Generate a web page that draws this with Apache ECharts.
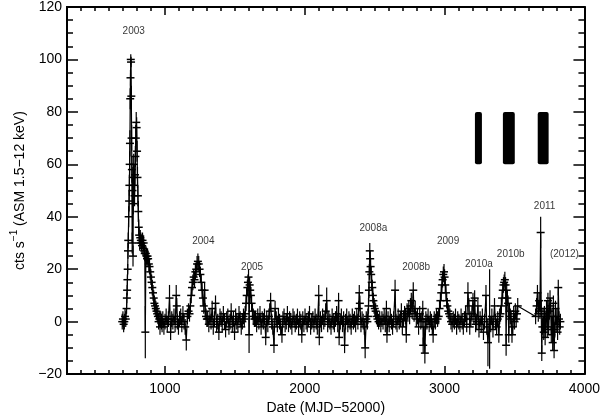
<!DOCTYPE html>
<html>
<head>
<meta charset="utf-8">
<script src="https://cdn.jsdelivr.net/npm/echarts@6/dist/echarts.min.js"></script>
<style>
  html, body { margin: 0; padding: 0; background: #fff; }
  #chart { width: 603px; height: 420px; }
</style>
</head>
<body>
<div id="chart"></div>
<script>
// light curve points: [MJD-52000, rate, error]
const seg2003 = [
  [695,0,3],[700,1,3],[705,-1,3],[710,0,3],[715,2,3],[720,1,3],
  [726,5,2],[728,9,2],[730,12,2],[732,16,2],[734,20,2],[736,27,3],[738,31,3],[741,40,4],[744,46,4],[746,52,4],
  [748,60,5],[750,68,5],[752,85,4],[754,93,3],[756,100,2],[758,99,2],[760,86,4],[762,70,5],[764,58,5],[766,30,4],
  [768,50,4],[771,55,4],[772,25,4],[774,45,4],[777,60,4],[780,52,4],[783,48,4],[786,56,4],[789,63,4],[792,70,5],
  [795,76,4],[798,74,4],[801,65,4],[804,55,4],[807,48,4],[810,42,4],[813,36,3],[816,33,3],[820,30,3],[824,32,3],
  [828,31,3],[832,30,3],[836,29,3],[840,31,3],[844,28,3],[848,30,3],[852,27,3],[856,26,3],[860,-4,10],[864,26,3],
  [868,25,3],[872,24,3],[876,25,3],[880,24,3],[885,22,3],[890,21,3],[895,19,3],[900,17,3],[905,15,3],[910,13,3],
  [915,11,3],[920,9,3],[925,7,3],[930,6,3],[935,5,3],[940,4,3],[945,3,3],[950,2,3],[955,0,3],[960,1,3],
  [965,-2,3],[970,1,3],[975,0,3],[980,-1,3]
];
const base2003 = [
  [985,1,3],[993,-2,3],[1001,0,3],[1009,2,3],[1017,-1,3],[1025,1,3],[1033,9,5],[1041,-4,3],[1049,1,3],[1057,0,3],
  [1065,2,3],[1073,-1,3],[1081,10,4],[1085,6,3],[1089,0,3],[1097,-2,3],[1105,1,3],[1113,2,3],[1121,-1,3],[1129,3,3],
  [1137,0,3],[1145,-2,3],[1153,-7,4],[1161,2,3],[1169,4,3]
];
const seg2004 = [
  [1176,3,3],[1182,6,3],[1188,10,3],[1194,13,3],[1200,15,3],[1206,17,3],[1212,16,3],[1218,19,3],[1224,20,3],
  [1230,22,3],[1236,23,3],[1242,22,3],[1248,20,3],[1254,18,3],[1260,15,3],[1266,12,3],[1272,9,3],[1278,6,3],
  [1284,12,3],[1288,4,3],[1294,2,3],[1300,1,3]
];
const base2004 = [
  [1306,1,3],[1314,-1,3],[1322,2,3],[1330,0,3],[1338,5,3],[1346,-2,3],[1354,1,3],[1362,7,3],[1370,-1,3],[1378,0,3],
  [1386,-4,3],[1394,2,3],[1402,1,3],[1410,-1,3],[1418,3,3],[1426,0,3],[1434,-3,3],[1442,1,3],[1450,2,3],[1458,-2,3],
  [1466,0,3],[1474,4,3],[1482,-1,3],[1490,1,3],[1498,-4,3],[1506,2,3],[1514,0,3],[1522,-1,3],[1530,3,3],[1538,1,3],
  [1546,-2,3],[1554,0,3],[1562,2,3],[1568,1,3]
];
const seg2005 = [
  [1574,3,3],[1580,7,3],[1585,10,3],[1590,13,3],[1594,15,3],[1598,17,3],[1602,-5,7],[1606,14,3],[1610,12,3],
  [1615,10,3],[1620,7,3],[1626,4,3],[1632,2,3],[1640,1,3]
];
const base2005 = [
  [1648,1,3],[1656,-1,3],[1664,2,3],[1672,0,3],[1680,3,3],[1688,-2,3],[1696,1,3],[1704,0,3],[1712,2,3],[1721,-6,3],
  [1728,1,3],[1736,-1,3],[1744,2,3],[1750,4,3],[1756,8,3],[1764,0,3],[1772,-2,3],[1780,-9,3],[1788,5,3],[1796,1,3],
  [1804,-1,3],[1812,2,3],[1820,0,3],[1828,-2,3],[1837,-5,3],[1844,1,3],[1852,2,3],[1860,-1,3],[1868,0,3],[1876,3,3],
  [1884,-1,3],[1892,1,3],[1900,0,3],[1908,-2,3],[1916,2,3],[1924,1,3],[1932,-1,3],[1940,0,3],[1948,2,3],[1956,-2,3],
  [1964,1,3],[1972,0,3],[1979,-5,3],[1986,1,3],[1994,-1,3],[2002,2,3],[2010,0,3],[2018,-1,3],[2026,1,3],[2034,3,3],
  [2042,-2,3],[2050,0,3],[2058,1,3],[2066,-1,3],[2074,2,3],[2082,0,3],[2090,-2,3],[2100,10,4],[2104,-6,3],[2112,1,3],
  [2120,-1,3],[2128,2,3],[2136,0,3],[2144,1,3],[2150,4,3],[2157,8,5],[2164,-1,3],[2172,1,3],[2180,0,3],[2188,-2,3],
  [2196,2,3],[2204,0,3],[2212,-1,3],[2220,1,3],[2228,3,3],[2236,-1,3],[2242,8,3],[2246,-6,3],[2254,0,3],[2262,2,3],
  [2270,-1,3],[2278,1,3],[2285,-9,3],[2292,0,3],[2300,2,3],[2308,-1,3],[2316,1,3],[2324,0,3],[2332,-2,3],[2340,2,3],
  [2348,0,3],[2356,1,3],[2364,-1,3],[2372,2,3],[2380,0,3],[2386,5,3],[2390,11,3],[2394,7,3],[2402,-1,3],[2410,1,3],
  [2418,0,3],[2426,-2,3],[2432,-10,4],[2440,1,3],[2448,0,3]
];
const seg2008a = [
  [2452,2,3],[2456,6,3],[2459,12,3],[2462,19,3],[2465,27,3],[2468,24,3],[2471,21,3],[2475,18,3],[2479,15,3],
  [2483,13,3],[2487,10,3],[2491,8,3],[2496,6,3],[2501,5,3],[2507,4,3],[2513,2,3],[2520,1,3],[2528,0,3],[2536,1,3]
];
const base2008 = [
  [2544,-1,3],[2552,1,3],[2560,0,3],[2568,2,3],[2576,-1,3],[2584,5,3],[2588,-5,3],[2596,1,3],[2604,-1,3],[2612,2,3],
  [2620,0,3],[2628,-2,3],[2636,1,3],[2646,12,4],[2652,0,3],[2660,-1,3],[2668,2,3],[2676,0,3],[2684,1,3],[2691,4,3],
  [2698,-2,3],[2706,1,3],[2714,3,3],[2720,2,3],[2726,-5,3],[2732,4,3],[2738,3,3],[2744,5,3],[2750,2,3],[2756,6,3],
  [2762,8,3],[2768,4,3],[2776,12,3],[2782,3,3],[2790,5,3],[2798,1,3],[2806,2,3],[2814,-2,3],[2822,3,3],[2830,0,3],
  [2838,1,3],[2844,5,3],[2847,-9,3],[2853,-2,3],[2859,-12,4],[2866,1,3],[2874,0,3],[2882,2,3],[2890,-1,3],[2898,1,3],
  [2906,0,3],[2912,-2,3],[2918,-5,3],[2926,1,3],[2934,0,3],[2942,2,3],[2950,1,3]
];
const seg2009 = [
  [2958,2,3],[2964,5,3],[2970,8,3],[2976,11,3],[2981,14,3],[2986,16,3],[2991,18,3],[2996,19,3],[3000,17,3],
  [3005,14,3],[3010,11,3],[3015,8,3],[3020,6,3],[3026,4,3],[3032,3,3],[3038,2,3]
];
const base2009 = [
  [3046,0,3],[3054,-1,3],[3062,1,3],[3070,0,3],[3078,2,3],[3086,-2,3],[3094,1,3],[3102,0,3],[3110,-1,3],[3118,2,3],
  [3126,0,3],[3134,-2,3],[3142,1,3],[3150,3,3],[3158,-1,3],[3167,11,4],[3174,6,3],[3180,-2,3],[3188,1,3],[3196,3,3],
  [3203,8,3],[3210,2,3],[3215,9,3],[3222,-1,3],[3230,0,3],[3238,6,3],[3246,-3,3],[3254,1,3],[3262,-1,3],[3270,2,3],
  [3278,-4,3],[3286,0,3],[3296,10,4],[3302,-2,3],[3310,-8,9],[3322,1,19],[3330,-1,3],[3338,2,3],[3346,-3,3],
  [3357,6,3],[3364,0,3],[3372,-2,3],[3380,1,3],[3388,-5,3],[3394,2,3]
];
const seg2010b = [
  [3400,3,3],[3406,6,3],[3411,9,3],[3416,12,3],[3421,14,3],[3426,15,3],[3431,16,3],[3436,14,3],[3440,-9,4],
  [3444,12,3],[3449,9,3],[3454,7,3],[3459,-5,3],[3464,4,3],[3470,2,3],
  [3476,1,3],[3482,-5,3],[3488,-2,3],[3494,3,3],[3500,0,3],[3506,4,3],[3512,1,3],[3518,3,3],[3523,6,3]
];
const seg2011 = [
  [3651,2,3],[3658,6,3],[3664,11,3],[3670,3,3],[3676,8,3],[3682,4,3],[3687,34,6],[3691,5,3],[3695,-12,3],[3699,-2,3],
  [3704,2,3],[3709,-4,3],[3714,3,3],[3719,-6,3],[3724,1,3],[3729,5,3],[3734,-3,3],[3739,8,3],[3744,-2,3],[3749,4,3],
  [3754,9,3],[3758,6,3],[3763,-5,3],[3768,2,3],[3773,-8,3],[3778,7,3],[3783,-11,3],[3788,-3,3],[3793,5,3],
  [3798,-1,3],[3803,2,3],[3808,-4,3],[3813,13,3],[3818,1,3],[3823,-2,3],[3828,0,3]
];

// outburst names
const outburstNames = ["2003", "2004", "2005", "2008a", "2008b", "2009", "2010a", "2010b", "2011", "(2012)"];
const outburstLabelX = [777, 1275, 1623, 2491, 2797, 3025, 3246, 3473, 3715, 3857];
const outburstLabelY = [110.9, 30.6, 20.8, 35.6, 20.8, 30.6, 21.9, 25.7, 43.9, 25.7];

// the three black bars: [x0, x1, y0, y1]
const bars = [
  [3217, 3267, 60, 80],
  [3417, 3502, 60, 80],
  [3666, 3744, 60, 80],
];

// tick marks
const xMajorTicks = [1000, 2000, 3000, 4000];
const xMinorTicks = [];
for (let v = 400; v < 4000; v += 100) {
  if (v % 1000 !== 0) xMinorTicks.push(v);
}

const points = [].concat(seg2003, base2003, seg2004, base2004, seg2005, base2005,
  seg2008a, base2008, seg2009, base2009, seg2010b, seg2011);

const labelData = outburstNames.map((n, i) => [outburstLabelX[i], outburstLabelY[i], n]);

const fontFamily = "Liberation Sans, Arial, sans-serif";
const black = "#000";
const tickFormat = (v) => String(v).replace("-", "\u2212");

const myChart = echarts.init(document.getElementById("chart"), null, { renderer: "canvas" });

function xAxisCfg(position, ticks, len, showLabels) {
  return {
    type: "value",
    position: position,
    min: 300,
    max: 4000,
    axisLine: { show: true, onZero: false, lineStyle: { color: black, width: 2 } },
    axisTick: { show: true, inside: true, length: len, customValues: ticks, lineStyle: { color: black, width: 1.5 } },
    axisLabel: {
      show: showLabels,
      customValues: xMajorTicks,
      formatter: tickFormat,
      color: black,
      fontSize: 14,
      fontFamily: fontFamily,
      margin: 8,
    },
    splitLine: { show: false },
  };
}

function yAxisCfg(position, showLabels) {
  return {
    type: "value",
    position: position,
    min: -20,
    max: 120,
    interval: 20,
    axisLine: { show: true, onZero: false, lineStyle: { color: black, width: 2 } },
    axisTick: { show: true, inside: true, length: 11, lineStyle: { color: black, width: 1.5 } },
    minorTick: { show: true, splitNumber: 4, length: 6, lineStyle: { color: black, width: 1.5 } },
    axisLabel: {
      show: showLabels,
      formatter: tickFormat,
      color: black,
      fontSize: 14,
      fontFamily: fontFamily,
      margin: 5,
    },
    splitLine: { show: false },
    minorSplitLine: { show: false },
  };
}

const xBottom = xAxisCfg("bottom", xMajorTicks, 8, true);
xBottom.name = "Date (MJD\u221252000)";
xBottom.nameLocation = "middle";
xBottom.nameGap = 25;
xBottom.nameTextStyle = { color: black, fontSize: 14, fontFamily: fontFamily };

const yLeft = yAxisCfg("left", true);
yLeft.name = "{a|cts s}{s|\u22121}{a| (ASM 1.5\u221212 keV)}";
yLeft.nameLocation = "middle";
yLeft.nameGap = 38;
yLeft.nameTextStyle = {
  color: black,
  fontFamily: fontFamily,
  rich: {
    a: { fontSize: 14, fontFamily: fontFamily, color: black, lineHeight: 18, verticalAlign: "bottom" },
    s: { fontSize: 10, fontFamily: fontFamily, color: black, lineHeight: 10, verticalAlign: "top" },
  },
};

myChart.setOption({
  backgroundColor: "#fff",
  animation: false,
  grid: { left: 67, right: 16, top: 5, bottom: 45, containLabel: false },
  xAxis: [
    xBottom,
    xAxisCfg("bottom", xMinorTicks, 4, false),
    xAxisCfg("top", xMajorTicks, 8, false),
    xAxisCfg("top", xMinorTicks, 4, false),
  ],
  yAxis: [yLeft, yAxisCfg("right", false)],
  series: [
    {
      type: "line",
      data: points.map((p) => [p[0], p[1]]),
      symbol: "none",
      lineStyle: { color: black, width: 1.2 },
      clip: true,
      z: 2,
    },
    {
      // plus symbols with vertical error bars
      type: "custom",
      data: points,
      clip: true,
      z: 3,
      renderItem: function (params, api) {
        const x = api.value(0);
        const y = api.value(1);
        const e = api.value(2);
        const p = api.coord([x, y]);
        const top = api.coord([x, y + e]);
        const bot = api.coord([x, y - e]);
        return {
          type: "group",
          children: [
            {
              type: "line",
              shape: { x1: p[0] - 4, y1: p[1], x2: p[0] + 4, y2: p[1] },
              style: { stroke: black, lineWidth: 1.5 },
            },
            {
              type: "line",
              shape: { x1: p[0], y1: Math.min(top[1], p[1] - 4), x2: p[0], y2: Math.max(bot[1], p[1] + 4) },
              style: { stroke: black, lineWidth: 1.2 },
            },
          ],
        };
      },
    },
    {
      type: "custom",
      data: bars,
      z: 4,
      renderItem: function (params, api) {
        const a = api.coord([api.value(0), api.value(3)]);
        const b = api.coord([api.value(1), api.value(2)]);
        return {
          type: "rect",
          shape: { x: a[0], y: a[1], width: b[0] - a[0], height: b[1] - a[1], r: 2 },
          style: { fill: black },
        };
      },
    },
    {
      type: "scatter",
      data: labelData,
      symbolSize: 1,
      itemStyle: { color: "rgba(0,0,0,0)" },
      z: 5,
      label: {
        show: true,
        position: "inside",
        formatter: (params) => params.value[2],
        color: black,
        fontSize: 10,
        fontFamily: fontFamily,
      },
    },
  ],
});
</script>
</body>
</html>
